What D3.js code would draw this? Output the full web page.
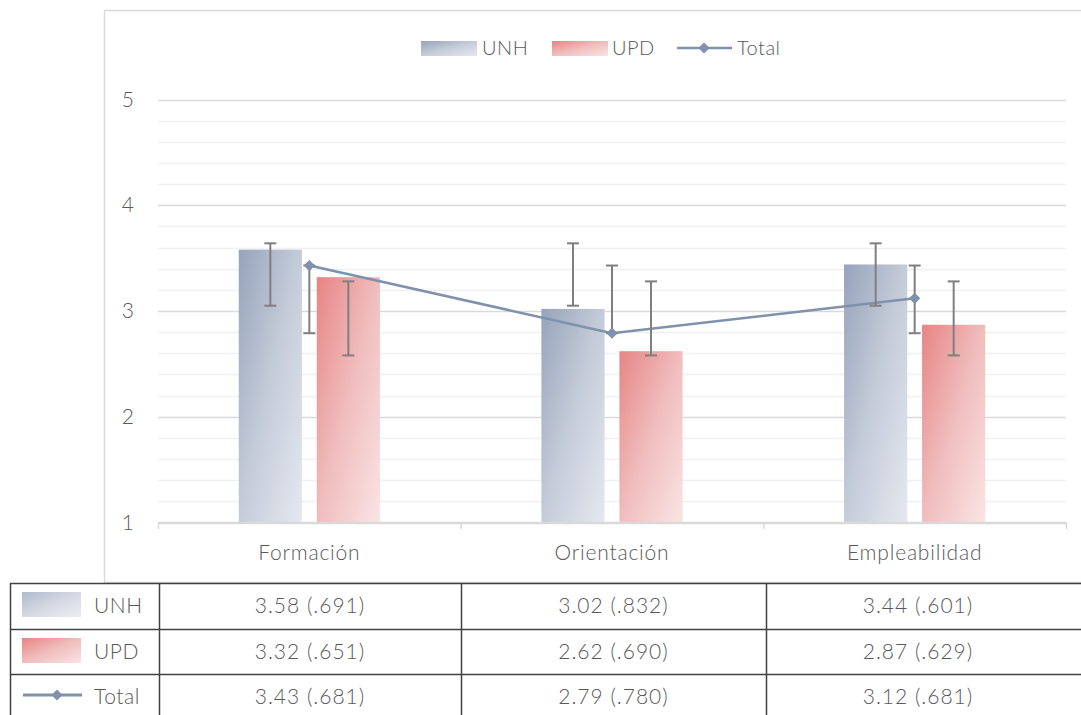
<!DOCTYPE html>
<html>
<head>
<meta charset="utf-8">
<script src="https://cdn.jsdelivr.net/npm/d3@7"></script>
<style>
  html, body { margin: 0; padding: 0; background: #fff; }
  svg { display: block; font-family: Lato, "Open Sans", sans-serif; }
</style>
</head>
<body>
<svg width="1081" height="715"></svg>
<script>
var categories = ["Formación", "Orientación", "Empleabilidad"];
var yTicks = [1, 2, 3, 4, 5];

var unhMean = [3.58, 3.02, 3.44];
var unhSd = [0.691, 0.832, 0.601];
var unhErrLow = [3.05, 3.05, 3.05];
var unhErrHigh = [3.64, 3.64, 3.64];

var updMean = [3.32, 2.62, 2.87];
var updSd = [0.651, 0.690, 0.629];
var updErrLow = [2.58, 2.58, 2.58];
var updErrHigh = [3.28, 3.28, 3.28];

var totalMean = [3.43, 2.79, 3.12];
var totalSd = [0.681, 0.780, 0.681];
var totalErrLow = [2.79, 2.79, 2.79];
var totalErrHigh = [3.43, 3.43, 3.43];

var seriesNames = ["UNH", "UPD"];

(function() {
  var svg = d3.select("svg"),
      textColor = "#595959",
      lineColor = "#7f91ab",
      errColor = "#7f7f7f";

  var x = d3.scaleBand().domain(categories).range([158, 1066]).padding(0),
      inner = d3.scaleBand().domain(seriesNames).range([0, x.bandwidth()])
        .paddingInner(0.19).paddingOuter(1.035),
      y = d3.scaleLinear().domain([1, 5]).range([522.5, 99.5]);

  // gradients
  var defs = svg.append("defs");
  function grad(id, stops) {
    var g = defs.append("linearGradient").attr("id", id)
      .attr("x1", 0).attr("y1", 0).attr("x2", 1).attr("y2", 1);
    stops.forEach(function(s) {
      g.append("stop").attr("offset", s[0]).attr("stop-color", s[1]);
    });
  }
  grad("gUNH", [[0, "#96a3bb"], [0.5, "#c5ccd9"], [1, "#e5e8ef"]]);
  grad("gUPD", [[0, "#e78484"], [0.5, "#f0bdbd"], [1, "#fae4e4"]]);
  var fills = {UNH: "url(#gUNH)", UPD: "url(#gUPD)"};

  // chart border
  svg.append("rect")
    .attr("x", 104.5).attr("y", 10.5)
    .attr("width", 1000).attr("height", 572)
    .attr("fill", "none").attr("stroke", "#d9d9d9").attr("stroke-width", 1.5);

  // gridlines
  var minor = d3.range(1, 5.001, 0.2).filter(function(v) {
    return Math.abs(v - Math.round(v)) > 0.01;
  });
  svg.append("g").selectAll("line").data(minor).enter().append("line")
    .attr("x1", 158).attr("x2", 1066)
    .attr("y1", function(d) { return Math.round(y(d)) + 0.5; })
    .attr("y2", function(d) { return Math.round(y(d)) + 0.5; })
    .attr("stroke", "#f0f0f0").attr("stroke-width", 1.5);
  svg.append("g").selectAll("line").data(yTicks).enter().append("line")
    .attr("x1", 158).attr("x2", 1066)
    .attr("y1", function(d) { return Math.round(y(d)) + 0.5; })
    .attr("y2", function(d) { return Math.round(y(d)) + 0.5; })
    .attr("stroke", "#d9d9d9").attr("stroke-width", 1.5);

  // y labels
  svg.append("g").selectAll("text").data(yTicks).enter().append("text")
    .attr("x", 134).attr("y", function(d) { return y(d) + 7; })
    .attr("text-anchor", "end").attr("fill", textColor)
    .attr("font-size", 21).attr("font-weight", 300)
    .text(function(d) { return d; });

  // x axis
  var xb = svg.append("g");
  var bounds = categories.map(function(c) { return x(c); }).concat([1066]);
  xb.selectAll("line").data(bounds).enter().append("line")
    .attr("x1", function(d) { return d + 0.5; }).attr("x2", function(d) { return d + 0.5; })
    .attr("y1", 522.5).attr("y2", 529)
    .attr("stroke", "#d9d9d9").attr("stroke-width", 1.5);
  xb.selectAll("text").data(categories).enter().append("text")
    .attr("x", function(d) { return x(d) + x.bandwidth() / 2; })
    .attr("y", 560).attr("text-anchor", "middle")
    .attr("fill", textColor).attr("font-size", 21).attr("font-weight", 300)
    .attr("letter-spacing", 0.8)
    .text(function(d) { return d; });

  // bars
  var barData = [];
  categories.forEach(function(c, i) {
    barData.push({cat: c, s: "UNH", v: unhMean[i], lo: unhErrLow[i], hi: unhErrHigh[i]});
    barData.push({cat: c, s: "UPD", v: updMean[i], lo: updErrLow[i], hi: updErrHigh[i]});
  });
  svg.append("g").selectAll("rect").data(barData).enter().append("rect")
    .attr("x", function(d) { return x(d.cat) + inner(d.s); })
    .attr("y", function(d) { return y(d.v); })
    .attr("width", inner.bandwidth())
    .attr("height", function(d) { return y(1) - y(d.v); })
    .attr("fill", function(d) { return fills[d.s]; });

  // axis line on top of bars
  svg.append("line").attr("x1", 158).attr("x2", 1066)
    .attr("y1", 522.5).attr("y2", 522.5)
    .attr("stroke", "#d9d9d9").attr("stroke-width", 1.5);

  // total line
  var cx = function(c) { return x(c) + x.bandwidth() / 2; };
  var line = d3.line()
    .x(function(d, i) { return cx(categories[i]); })
    .y(function(d) { return y(d); });
  svg.append("path").datum(totalMean)
    .attr("d", line).attr("fill", "none")
    .attr("stroke", lineColor).attr("stroke-width", 2.5);

  // error bars
  var errData = barData.map(function(d) {
    return {x: x(d.cat) + inner(d.s) + inner.bandwidth() / 2, lo: d.lo, hi: d.hi};
  }).concat(categories.map(function(c, i) {
    return {x: cx(c), lo: totalErrLow[i], hi: totalErrHigh[i]};
  }));
  var eg = svg.append("g").attr("stroke", errColor).attr("stroke-width", 2);
  errData.forEach(function(d) {
    eg.append("line").attr("x1", d.x).attr("x2", d.x)
      .attr("y1", y(d.hi)).attr("y2", y(d.lo));
    eg.append("line").attr("x1", d.x - 6).attr("x2", d.x + 6)
      .attr("y1", y(d.hi)).attr("y2", y(d.hi));
    eg.append("line").attr("x1", d.x - 6).attr("x2", d.x + 6)
      .attr("y1", y(d.lo)).attr("y2", y(d.lo));
  });

  // diamonds
  var diamond = d3.symbol().type(d3.symbolDiamond2).size(80);
  svg.append("g").selectAll("path").data(totalMean).enter().append("path")
    .attr("d", diamond)
    .attr("transform", function(d, i) {
      return "translate(" + cx(categories[i]) + "," + y(d) + ")";
    })
    .attr("fill", lineColor);

  // legend
  var lg = svg.append("g").attr("font-size", 20).attr("font-weight", 300)
    .attr("letter-spacing", 0.5).attr("fill", textColor);
  lg.append("rect").attr("x", 421).attr("y", 41).attr("width", 56).attr("height", 15).attr("fill", "url(#gUNH)");
  lg.append("text").attr("x", 482).attr("y", 55).text("UNH");
  lg.append("rect").attr("x", 552).attr("y", 41).attr("width", 56).attr("height", 15).attr("fill", "url(#gUPD)");
  lg.append("text").attr("x", 612).attr("y", 55).text("UPD");
  lg.append("line").attr("x1", 677).attr("x2", 732).attr("y1", 48).attr("y2", 48)
    .attr("stroke", lineColor).attr("stroke-width", 2.5);
  lg.append("path").attr("d", diamond).attr("transform", "translate(704,48)").attr("fill", lineColor);
  lg.append("text").attr("x", 737).attr("y", 55).text("Total");

  // data table
  var rows = [
    {name: "UNH", mean: unhMean, sd: unhSd},
    {name: "UPD", mean: updMean, sd: updSd},
    {name: "Total", mean: totalMean, sd: totalSd}
  ];
  var rowTop = [583, 629, 674];
  var fmtSd = function(v) { return "(" + d3.format(".3f")(v).replace(/^0/, "") + ")"; };
  var tg = svg.append("g");
  rowTop.forEach(function(t) {
    tg.append("line").attr("x1", 10).attr("x2", 1081).attr("y1", t + 0.5).attr("y2", t + 0.5)
      .attr("stroke", "#404040").attr("stroke-width", 1.5);
  });
  [10, 159, 461, 766].forEach(function(v) {
    tg.append("line").attr("x1", v + 0.5).attr("x2", v + 0.5).attr("y1", 583).attr("y2", 715)
      .attr("stroke", "#404040").attr("stroke-width", 1.5);
  });
  var cols = [159, 461, 766, 1070];
  rows.forEach(function(r, ri) {
    var ty = rowTop[ri] + 30;
    tg.append("text").attr("x", 94).attr("y", ty)
      .attr("font-size", 21).attr("font-weight", 300).attr("letter-spacing", 0.6)
      .attr("fill", textColor).text(r.name);
    r.mean.forEach(function(m, ci) {
      tg.append("text").attr("x", (cols[ci] + cols[ci + 1]) / 2).attr("y", ty)
        .attr("text-anchor", "middle").attr("font-size", 21).attr("font-weight", 300)
        .attr("letter-spacing", 1).attr("fill", textColor)
        .text(d3.format(".2f")(m) + " " + fmtSd(r.sd[ci]));
    });
  });
  tg.append("rect").attr("x", 22).attr("y", 592).attr("width", 59).attr("height", 25).attr("fill", "url(#gUNH)").attr("opacity", 0.75);
  tg.append("rect").attr("x", 22).attr("y", 638).attr("width", 59).attr("height", 25).attr("fill", "url(#gUPD)");
  tg.append("line").attr("x1", 23).attr("x2", 82).attr("y1", 695).attr("y2", 695)
    .attr("stroke", lineColor).attr("stroke-width", 3);
  tg.append("path").attr("d", diamond).attr("transform", "translate(57,695)").attr("fill", lineColor);
})();
</script>
</body>
</html>
